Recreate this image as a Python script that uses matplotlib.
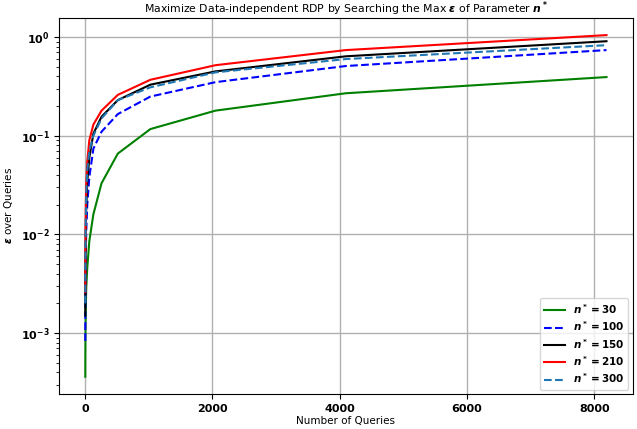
import matplotlib
matplotlib.use("Agg")
import matplotlib.pyplot as plt

plt.rcParams['font.weight'] = 'bold'

queries = [1, 2, 4, 8, 16, 32, 64, 128, 256, 512, 1024, 2048, 4096, 8192]
eps_30 = [0.00036, 0.0006, 0.0010, 0.0017, 0.0029, 0.0046, 0.0085, 0.016, 0.033, 0.066, 0.117, 0.18, 0.27, 0.394]
eps_100 = [0.00083, 0.0016, 0.003, 0.0058, 0.011, 0.02, 0.038, 0.074, 0.11, 0.166, 0.25, 0.35, 0.51, 0.74]
eps_150 = [0.0015, 0.0029, 0.0055, 0.0105, 0.019, 0.034, 0.06, 0.105, 0.156, 0.23, 0.33, 0.45, 0.64, 0.91]
eps_210 = [0.0026, 0.005, 0.0095, 0.018, 0.032, 0.055, 0.09, 0.13, 0.18, 0.26, 0.37, 0.52, 0.74, 1.05]
eps_300 = [0.002, 0.0039, 0.0075, 0.014, 0.026, 0.045, 0.07, 0.1, 0.15, 0.23, 0.31, 0.44, 0.6, 0.83]

fig, ax = plt.subplots(figsize=(6.37, 4.29), dpi=100)
ax.plot(queries, eps_30, color='green', lw=1.5, label=r'$\boldsymbol{n^* = 30}$')
ax.plot(queries, eps_100, color='blue', lw=1.5, ls='--', label=r'$\boldsymbol{n^* = 100}$')
ax.plot(queries, eps_150, color='black', lw=1.5, label=r'$\boldsymbol{n^* = 150}$')
ax.plot(queries, eps_210, color='red', lw=1.5, label=r'$\boldsymbol{n^* = 210}$')
ax.plot(queries, eps_300, color='tab:blue', lw=1.5, ls='--', label=r'$\boldsymbol{n^* = 300}$')
ax.set_yscale('log')
ax.grid(True, color='#b0b0b0', lw=1)
ax.set_title(r'Maximize Data-independent RDP by Searching the Max $\boldsymbol{\epsilon}$ of Parameter $\boldsymbol{n}^*$',
             fontsize=7.8, fontweight='normal', pad=1.5)
ax.set_xlabel('Number of Queries', fontsize=7.5, fontweight='normal', labelpad=2)
ax.set_ylabel(r'$\boldsymbol{\epsilon}$ over Queries', fontsize=7.5, fontweight='normal')
ax.tick_params(labelsize=8)
ax.legend(loc='lower right', fontsize=7.5, labelspacing=0.35, borderaxespad=0.4)
fig.subplots_adjust(left=0.093, right=0.993, top=0.958, bottom=0.082)
fig.savefig('out.png', dpi=100)
